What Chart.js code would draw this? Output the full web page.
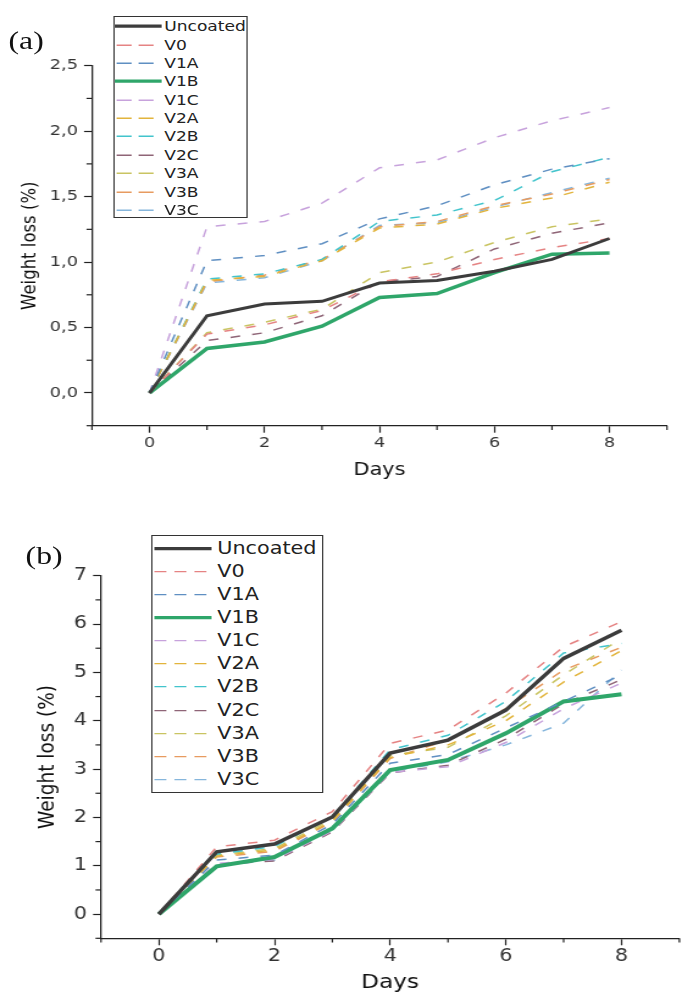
<!DOCTYPE html>
<html>
<head>
<meta charset="utf-8">
<script src="https://cdn.jsdelivr.net/npm/chart.js@4"></script>
<style>
  body { margin: 0; background: #fff; width: 681px; height: 994px; overflow: hidden; }
  /* the reference figure is stretched sideways, so the whole page is too */
  #page { position: absolute; left: 0; top: 0; width: 558px; height: 994px;
          transform: scaleX(1.22); transform-origin: 0 0; font-family: "DejaVu Sans", sans-serif; }
  canvas { position: absolute; left: 0; }
  .panel { position: absolute; font-family: "Liberation Serif", serif; font-size: 26px; line-height: 26px; color: #111; }
  .legend { position: absolute; border: 1.2px solid #333; background: #fff; box-sizing: border-box; }
  .legend .row { position: absolute; left: 0; width: 100%; white-space: nowrap; color: #222; }
</style>
</head>
<body>
<div id="page">
  <canvas id="chartA" width="558" height="490" style="top:0"></canvas>
  <canvas id="chartB" width="558" height="504" style="top:490px"></canvas>
  <div class="panel" style="left:7px;top:28px">(a)</div>
  <div class="panel" style="left:21px;top:543px">(b)</div>
  <div id="legendA" class="legend"></div>
  <div id="legendB" class="legend"></div>
</div>
<script>
const days = [0, 1, 2, 3, 4, 5, 6, 7, 8];
const seriesNames = ['Uncoated', 'V0', 'V1A', 'V1B', 'V1C', 'V2A', 'V2B', 'V2C', 'V3A', 'V3B', 'V3C'];
const seriesColors = ['#3c3c3c', '#e58383', '#5f8fc2', '#2fa66a', '#c7a2dc', '#e2b43c', '#42c4cc',
                      '#8f6577', '#c9c462', '#e79b60', '#86b6dc'];

// (a) weight loss, %
const aUncoated = [0, 0.59, 0.68, 0.70, 0.84, 0.86, 0.93, 1.02, 1.18];
const aV0  = [0, 0.45, 0.52, 0.63, 0.85, 0.91, 1.02, 1.11, 1.18];
const aV1A = [0, 1.01, 1.05, 1.14, 1.33, 1.43, 1.59, 1.71, 1.79];
const aV1B = [0, 0.34, 0.39, 0.51, 0.73, 0.76, 0.92, 1.06, 1.07];
const aV1C = [0, 1.27, 1.31, 1.45, 1.72, 1.78, 1.95, 2.08, 2.18];
const aV2A = [0, 0.86, 0.89, 1.01, 1.26, 1.29, 1.41, 1.49, 1.61];
const aV2B = [0, 0.87, 0.91, 1.02, 1.31, 1.36, 1.47, 1.69, 1.80];
const aV2C = [0, 0.40, 0.46, 0.59, 0.85, 0.89, 1.10, 1.22, 1.30];
const aV3A = [0, 0.46, 0.54, 0.64, 0.92, 1.00, 1.15, 1.27, 1.33];
const aV3B = [0, 0.85, 0.90, 1.02, 1.27, 1.31, 1.43, 1.52, 1.63];
const aV3C = [0, 0.84, 0.88, 1.01, 1.28, 1.30, 1.42, 1.53, 1.64];

// (b) weight loss, %
const bUncoated = [0, 1.29, 1.45, 2.01, 3.33, 3.60, 4.22, 5.29, 5.87];
const bV0  = [0, 1.39, 1.53, 2.12, 3.53, 3.81, 4.57, 5.53, 6.05];
const bV1A = [0, 1.12, 1.22, 1.86, 3.12, 3.30, 3.85, 4.40, 4.95];
const bV1B = [0, 0.99, 1.18, 1.77, 2.98, 3.19, 3.74, 4.40, 4.55];
const bV1C = [0, 1.05, 1.13, 1.72, 2.93, 3.05, 3.55, 4.25, 4.78];
const bV2A = [0, 1.20, 1.33, 1.92, 3.24, 3.50, 4.00, 4.80, 5.45];
const bV2B = [0, 1.24, 1.40, 2.02, 3.40, 3.70, 4.40, 5.40, 5.60];
const bV2C = [0, 1.03, 1.10, 1.70, 2.92, 3.08, 3.62, 4.35, 4.85];
const bV3A = [0, 1.22, 1.36, 1.96, 3.28, 3.45, 4.10, 4.95, 5.70];
const bV3B = [0, 1.18, 1.30, 1.90, 3.22, 3.60, 4.25, 5.05, 5.52];
const bV3C = [0, 1.00, 1.12, 1.80, 2.95, 3.15, 3.50, 3.95, 5.05];

const xTickLabels = ['0', '2', '4', '6', '8'];
const yTickLabelsA = ['0,0', '0,5', '1,0', '1,5', '2,0', '2,5'];
const yTickLabelsB = ['0', '1', '2', '3', '4', '5', '6', '7'];

function isMajor(v, step) {
    const q = v / step;
    return Math.abs(q - Math.round(q)) < 1e-6;
}

// short minor ticks, the library draws the long ones
const minorTicks = {
    id: 'minorTicks',
    afterDraw(chart, args, opts) {
        const c = chart.ctx;
        const xs = chart.scales.x, ys = chart.scales.y;
        c.save();
        c.strokeStyle = '#222';
        c.lineWidth = 1.2;
        xs.ticks.forEach(t => {
            if (isMajor(t.value, opts.xMajor)) return;
            const px = xs.getPixelForValue(t.value);
            c.beginPath(); c.moveTo(px, xs.top); c.lineTo(px, xs.top + opts.xLen); c.stroke();
        });
        ys.ticks.forEach(t => {
            if (isMajor(t.value, opts.yMajor)) return;
            const py = ys.getPixelForValue(t.value);
            c.beginPath(); c.moveTo(ys.right, py); c.lineTo(ys.right - opts.yLen, py); c.stroke();
        });
        c.restore();
    }
};

function makeChart(id, series, cfg) {
    const datasets = series.map((vals, i) => {
        const name = seriesNames[i];
        const solid = name === 'Uncoated' || name === 'V1B';
        return {
            label: name,
            data: days.map((d, j) => ({ x: d, y: vals[j] })),
            borderColor: seriesColors[i],
            borderWidth: name === 'Uncoated' ? cfg.uncoatedWidth : (name === 'V1B' ? cfg.v1bWidth : 1.5),
            borderDash: solid ? [] : [8, 10],
            fill: false
        };
    });

    return new Chart(document.getElementById(id), {
        type: 'line',
        data: { datasets },
        options: {
            responsive: false,
            animation: false,
            devicePixelRatio: 1,
            layout: { padding: { left: 0, right: cfg.padRight, top: cfg.padTop, bottom: 0 } },
            elements: { line: { tension: 0 }, point: { radius: 0 } },
            plugins: {
                legend: { display: false },
                tooltip: { enabled: false },
                minorTicks: { xMajor: 2, yMajor: cfg.yMajor, xLen: 4.3, yLen: 4.5 }
            },
            scales: {
                x: {
                    type: 'linear',
                    min: -1,
                    max: 9,
                    afterFit: s => { s.height = cfg.xHeight; },
                    ticks: {
                        stepSize: 1,
                        autoSkip: false,
                        maxRotation: 0,
                        maxTicksLimit: 30,
                        padding: cfg.xTickPad,
                        color: '#333',
                        font: { family: 'DejaVu Sans', size: cfg.tickSize },
                        callback: v => (isMajor(v, 2) && v >= 0) ? xTickLabels[Math.round(v / 2)] : ''
                    },
                    grid: {
                        drawOnChartArea: false,
                        tickLength: 7,
                        tickWidth: 1.2,
                        tickColor: ctx => (ctx.tick && isMajor(ctx.tick.value, 2)) ? '#222' : 'rgba(0,0,0,0)'
                    },
                    border: { color: '#222', width: 1.3 },
                    title: {
                        display: true,
                        text: 'Days',
                        color: '#111',
                        font: { family: 'DejaVu Sans', size: cfg.titleSize },
                        padding: { top: 0, bottom: cfg.xTitlePad }
                    }
                },
                y: {
                    min: cfg.yMin,
                    max: cfg.yMax,
                    afterFit: s => { s.width = cfg.yWidth; },
                    ticks: {
                        stepSize: cfg.yMajor / 2,
                        autoSkip: false,
                        maxTicksLimit: 30,
                        padding: 5,
                        color: '#333',
                        font: { family: 'DejaVu Sans', size: cfg.tickSize },
                        callback: v => (isMajor(v, cfg.yMajor) && v >= -1e-9) ? cfg.yLabels[Math.round(v / cfg.yMajor)] : ''
                    },
                    grid: {
                        drawOnChartArea: false,
                        tickLength: 6.5,
                        tickWidth: 1.2,
                        tickColor: ctx => (ctx.tick && isMajor(ctx.tick.value, cfg.yMajor)) ? '#222' : 'rgba(0,0,0,0)'
                    },
                    border: { color: '#222', width: 1.3 },
                    title: {
                        display: true,
                        text: 'Weight loss (%)',
                        color: '#111',
                        font: { family: 'DejaVu Sans', size: cfg.yTitleSize },
                        padding: { top: cfg.yTitlePad, bottom: 0 }
                    }
                }
            }
        },
        plugins: [minorTicks]
    });
}

makeChart('chartA',
    [aUncoated, aV0, aV1A, aV1B, aV1C, aV2A, aV2B, aV2C, aV3A, aV3B, aV3C],
    { padTop: 65.7, padRight: 11.3, yWidth: 75.4, xHeight: 64.3, yMin: -0.25, yMax: 2.5, yMajor: 0.5,
      yLabels: yTickLabelsA, tickSize: 14.5, titleSize: 17, yTitleSize: 16.5, xTickPad: 1.6, xTitlePad: 9,
      yTitlePad: 14.5, uncoatedWidth: 3, v1bWidth: 3.5 });

makeChart('chartB',
    [bUncoated, bV0, bV1A, bV1B, bV1C, bV2A, bV2B, bV2C, bV3A, bV3B, bV3C],
    { padTop: 85.7, padRight: 0, yWidth: 82.8, xHeight: 55.7, yMin: -0.5, yMax: 7, yMajor: 1,
      yLabels: yTickLabelsB, tickSize: 17, titleSize: 19, yTitleSize: 18.5, xTickPad: 1.2, xTitlePad: 0,
      yTitlePad: 28, uncoatedWidth: 3.5, v1bWidth: 4 });

function buildLegend(id, box) {
    const el = document.getElementById(id);
    el.style.left = box.left + 'px';
    el.style.top = box.top + 'px';
    el.style.width = box.width + 'px';
    el.style.height = box.height + 'px';
    seriesNames.forEach((name, i) => {
        const solid = name === 'Uncoated' || name === 'V1B';
        const mid = box.rowH / 2;
        const row = document.createElement('div');
        row.className = 'row';
        row.style.top = (box.firstTop + i * box.rowH) + 'px';
        row.style.height = box.rowH + 'px';
        const x0 = solid ? box.solidX0 : box.dashX0;
        const x1 = solid ? box.solidX1 : box.dashX1;
        const dash = solid ? '' : `stroke-dasharray="${box.dash}"`;
        row.innerHTML =
            `<svg width="${box.textX}" height="${box.rowH}" style="position:absolute;left:0;top:0">` +
            `<line x1="${x0}" x2="${x1}" y1="${mid}" y2="${mid}" stroke="${seriesColors[i]}" ` +
            `stroke-width="${solid ? 3.3 : 1.4}" ${dash}/></svg>` +
            `<span style="position:absolute;left:${box.textX}px;top:0;line-height:${box.rowH}px;font-size:${box.fontSize}px">${name}</span>`;
        el.appendChild(row);
    });
}

buildLegend('legendA', { left: 92.6, top: 16, width: 110.7, height: 202, rowH: 18.36, firstTop: 0.3,
    solidX0: 0, solidX1: 38.5, dashX0: 1.6, dashX1: 32, dash: '12.3 5.7', textX: 41, fontSize: 14 });
buildLegend('legendB', { left: 123.8, top: 535, width: 141, height: 258, rowH: 23.15, firstTop: 0.5,
    solidX0: 1.6, solidX1: 48.4, dashX0: 1.6, dashX1: 46.7, dash: '9.8 6.6', textX: 53.3, fontSize: 17 });
</script>
</body>
</html>
